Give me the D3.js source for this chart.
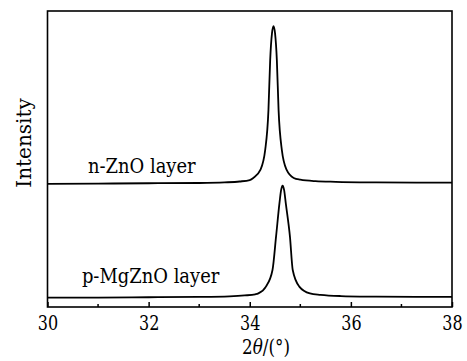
<!DOCTYPE html>
<html>
<head>
<meta charset="utf-8">
<script src="https://cdn.jsdelivr.net/npm/d3@7"></script>
<style>
  html, body { margin: 0; padding: 0; background: #fff; }
  svg { display: block; }
  svg text { font-family: "DejaVu Serif", serif !important; }
</style>
</head>
<body>
<div id="chart"></div>
<script>
// 2θ values (degrees) and intensities (arb. units)
const nZnOX = [30, 31, 32, 33, 33.5, 33.8, 34.0, 34.07, 34.21, 34.305, 34.37, 34.404, 34.44, 34.47, 34.50, 34.536, 34.57, 34.635, 34.73, 34.87, 35.0, 35.3, 35.7, 36.5, 37.3, 38];
const nZnOY = [41.6, 41.7, 41.8, 41.9, 42.1, 42.4, 42.9, 43.6, 46.3, 53.0, 66.6, 83.4, 92.5, 94.9, 92.5, 83.4, 66.6, 53.0, 46.3, 43.6, 43.0, 42.5, 42.3, 42.1, 42.0, 42.0];

const pMgZnOX = [30, 31, 32, 33, 33.6, 33.9, 34.11, 34.17, 34.32, 34.45, 34.52, 34.587, 34.62, 34.65, 34.68, 34.713, 34.795, 34.85, 34.98, 35.19, 35.4, 35.8, 36.5, 37.3, 38];
const pMgZnOY = [3.2, 3.2, 3.3, 3.4, 3.6, 3.9, 4.3, 4.6, 6.9, 12.5, 23.75, 35.0, 39.5, 41.0, 39.5, 35.0, 23.75, 12.5, 6.9, 4.6, 4.1, 3.7, 3.5, 3.4, 3.4];

const majorTicks = [30, 32, 34, 36, 38];
const minorTicks = [31, 33, 35, 37];

const width = 467;
const height = 361;
const marginLeft = 47.5;
const marginRight = 15;
const marginTop = 11;
const marginBottom = 54;

const svg = d3.select('#chart')
  .append('svg')
  .attr('width', width)
  .attr('height', height);

const x = d3.scaleLinear()
  .domain([30, 38])
  .range([marginLeft, width - marginRight]);

const y = d3.scaleLinear()
  .domain([0, 100])
  .range([height - marginBottom, marginTop]);

const line = d3.line()
  .x(d => x(d[0]))
  .y(d => y(d[1]))
  .curve(d3.curveMonotoneX);

// curves
[[nZnOX, nZnOY], [pMgZnOX, pMgZnOY]].forEach(([xs, ys]) => {
  svg.append('path')
    .datum(xs.map((v, i) => [v, ys[i]]))
    .attr('fill', 'none')
    .attr('stroke', '#000')
    .attr('stroke-width', 1.8)
    .attr('stroke-linejoin', 'round')
    .attr('d', line);
});

// bottom axis, ticks pointing inward
const gx = svg.append('g')
  .attr('transform', `translate(0, ${height - marginBottom})`);

gx.call(d3.axisBottom(x).tickValues(majorTicks).tickSize(-5).tickPadding(8.5).tickFormat(d3.format('d')))
  .call(g => g.select('.domain').remove())
  .call(g => g.selectAll('.tick line').attr('stroke', '#000').attr('stroke-width', 1.5))
  .call(g => g.selectAll('.tick text')
    .attr('font-size', 20)
    .attr('fill', '#000')
    .attr('transform', 'scale(0.8,1)'));

gx.selectAll('.minor')
  .data(minorTicks)
  .join('line')
  .attr('class', 'minor')
  .attr('x1', d => x(d))
  .attr('x2', d => x(d))
  .attr('y1', 0)
  .attr('y2', -3)
  .attr('stroke', '#000')
  .attr('stroke-width', 1.5);

// frame
svg.append('rect')
  .attr('x', marginLeft)
  .attr('y', marginTop)
  .attr('width', width - marginLeft - marginRight)
  .attr('height', height - marginTop - marginBottom)
  .attr('fill', 'none')
  .attr('stroke', '#000')
  .attr('stroke-width', 1.6);

// curve labels
svg.append('text')
  .attr('transform', `translate(${x(30.8)}, ${y(45.4)}) scale(0.92,1)`)
  .attr('font-size', 19.5)
  .text('n-ZnO layer');

svg.append('text')
  .attr('transform', `translate(${x(30.68)}, ${y(8.2)}) scale(0.92,1)`)
  .attr('font-size', 19.5)
  .text('p-MgZnO layer');

// axis titles
const xt = svg.append('text')
  .attr('transform', 'translate(266, 354) scale(0.84,1)')
  .attr('text-anchor', 'middle')
  .attr('font-size', 20);
xt.append('tspan').text('2');
xt.append('tspan').attr('font-style', 'italic').text('θ');
xt.append('tspan').text('/(°)');

svg.append('text')
  .attr('transform', 'translate(31, 143) rotate(-90)')
  .attr('text-anchor', 'middle')
  .attr('font-size', 20)
  .text('Intensity');
</script>
</body>
</html>
